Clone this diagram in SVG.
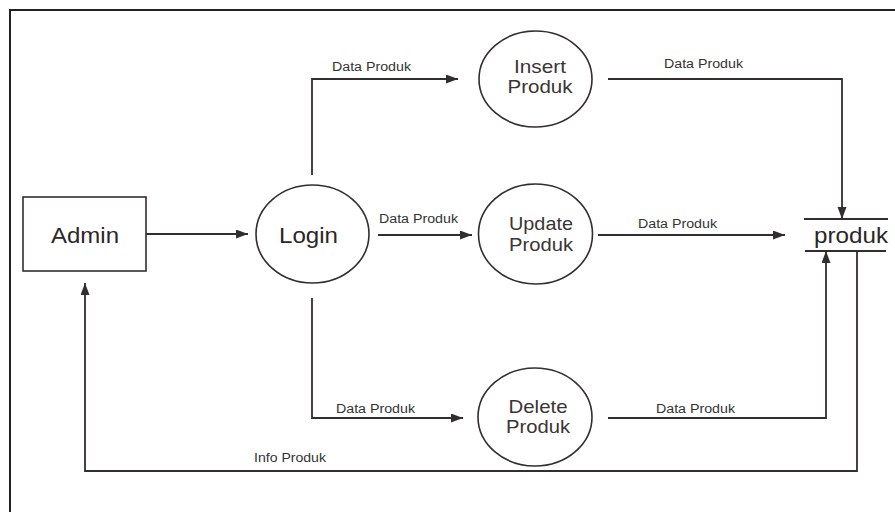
<svg xmlns="http://www.w3.org/2000/svg" width="895" height="512" viewBox="0 0 895 512">
  <style>
    .ln { fill: none; stroke: #332e2e; stroke-width: 1.8; }
    .shape { fill: #ffffff; stroke: #332e2e; stroke-width: 1.6; }
    .lbl { font-family: "Liberation Sans", Arial, sans-serif; font-size: 12.5px; fill: #333; }
    .big { font-family: "Liberation Sans", Arial, sans-serif; font-size: 22px; fill: #2b2727; }
    .proc { font-family: "Liberation Sans", Arial, sans-serif; font-size: 19px; fill: #3a3535; text-anchor: middle; }
  </style>
  <defs>
    <marker id="arrow" markerUnits="userSpaceOnUse" markerWidth="13" markerHeight="10" refX="12" refY="4.5" orient="auto">
      <path d="M0,0 L12,4.5 L0,9 z" fill="#332e2e"/>
    </marker>
  </defs>

  <rect width="895" height="512" fill="#ffffff"/>
  <!-- outer frame -->
  <rect x="10" y="10" width="900" height="520" fill="none" stroke="#222" stroke-width="2"/>

  <!-- connectors -->
  <g id="connectors">
    <path class="ln" d="M146,234 H248" marker-end="url(#arrow)"/>
    <path class="ln" d="M312,175 V79 H458" marker-end="url(#arrow)"/>
    <path class="ln" d="M608,79 H842 V219" marker-end="url(#arrow)"/>
    <path class="ln" d="M378,235 H472" marker-end="url(#arrow)"/>
    <path class="ln" d="M598,235 H785" marker-end="url(#arrow)"/>
    <path class="ln" d="M312,298 V418 H463" marker-end="url(#arrow)"/>
    <path class="ln" d="M608,418 H826 V251" marker-end="url(#arrow)"/>
    <path class="ln" d="M857,251 V471 H85 V283" marker-end="url(#arrow)"/>

    <text class="lbl" x="332" y="71" textLength="79" lengthAdjust="spacingAndGlyphs">Data Produk</text>
    <text class="lbl" x="664" y="68" textLength="79" lengthAdjust="spacingAndGlyphs">Data Produk</text>
    <text class="lbl" x="379" y="223" textLength="79" lengthAdjust="spacingAndGlyphs">Data Produk</text>
    <text class="lbl" x="638" y="228" textLength="79" lengthAdjust="spacingAndGlyphs">Data Produk</text>
    <text class="lbl" x="336" y="413" textLength="79" lengthAdjust="spacingAndGlyphs">Data Produk</text>
    <text class="lbl" x="656" y="413" textLength="79" lengthAdjust="spacingAndGlyphs">Data Produk</text>
    <text class="lbl" x="254" y="462" textLength="72" lengthAdjust="spacingAndGlyphs">Info Produk</text>
  </g>

  <!-- external entity -->
  <g id="admin">
    <rect class="shape" x="23" y="197" width="123" height="74"/>
    <text class="big" x="51" y="243" textLength="68" lengthAdjust="spacingAndGlyphs">Admin</text>
  </g>

  <!-- processes -->
  <g id="login">
    <ellipse class="shape" cx="312.5" cy="234" rx="56.5" ry="49"/>
    <text class="big" x="279" y="243" textLength="59" lengthAdjust="spacingAndGlyphs">Login</text>
  </g>

  <g id="insert-produk">
    <ellipse class="shape" cx="535.5" cy="79" rx="56.5" ry="48"/>
    <text class="proc" x="540" y="73" textLength="52" lengthAdjust="spacingAndGlyphs">Insert</text>
    <text class="proc" x="540" y="93" textLength="65" lengthAdjust="spacingAndGlyphs">Produk</text>
  </g>

  <g id="update-produk">
    <ellipse class="shape" cx="535.5" cy="234" rx="57" ry="50"/>
    <text class="proc" x="541" y="230" textLength="64" lengthAdjust="spacingAndGlyphs">Update</text>
    <text class="proc" x="541" y="251" textLength="64" lengthAdjust="spacingAndGlyphs">Produk</text>
  </g>

  <g id="delete-produk">
    <ellipse class="shape" cx="535" cy="417" rx="57" ry="49"/>
    <text class="proc" x="538" y="413" textLength="59" lengthAdjust="spacingAndGlyphs">Delete</text>
    <text class="proc" x="538" y="433" textLength="64" lengthAdjust="spacingAndGlyphs">Produk</text>
  </g>

  <!-- data store -->
  <g id="produk">
    <line class="ln" x1="804" y1="219" x2="888" y2="219"/>
    <line class="ln" x1="805" y1="251" x2="886" y2="251"/>
    <text class="big" x="814" y="243" textLength="74" lengthAdjust="spacingAndGlyphs">produk</text>
  </g>
</svg>
